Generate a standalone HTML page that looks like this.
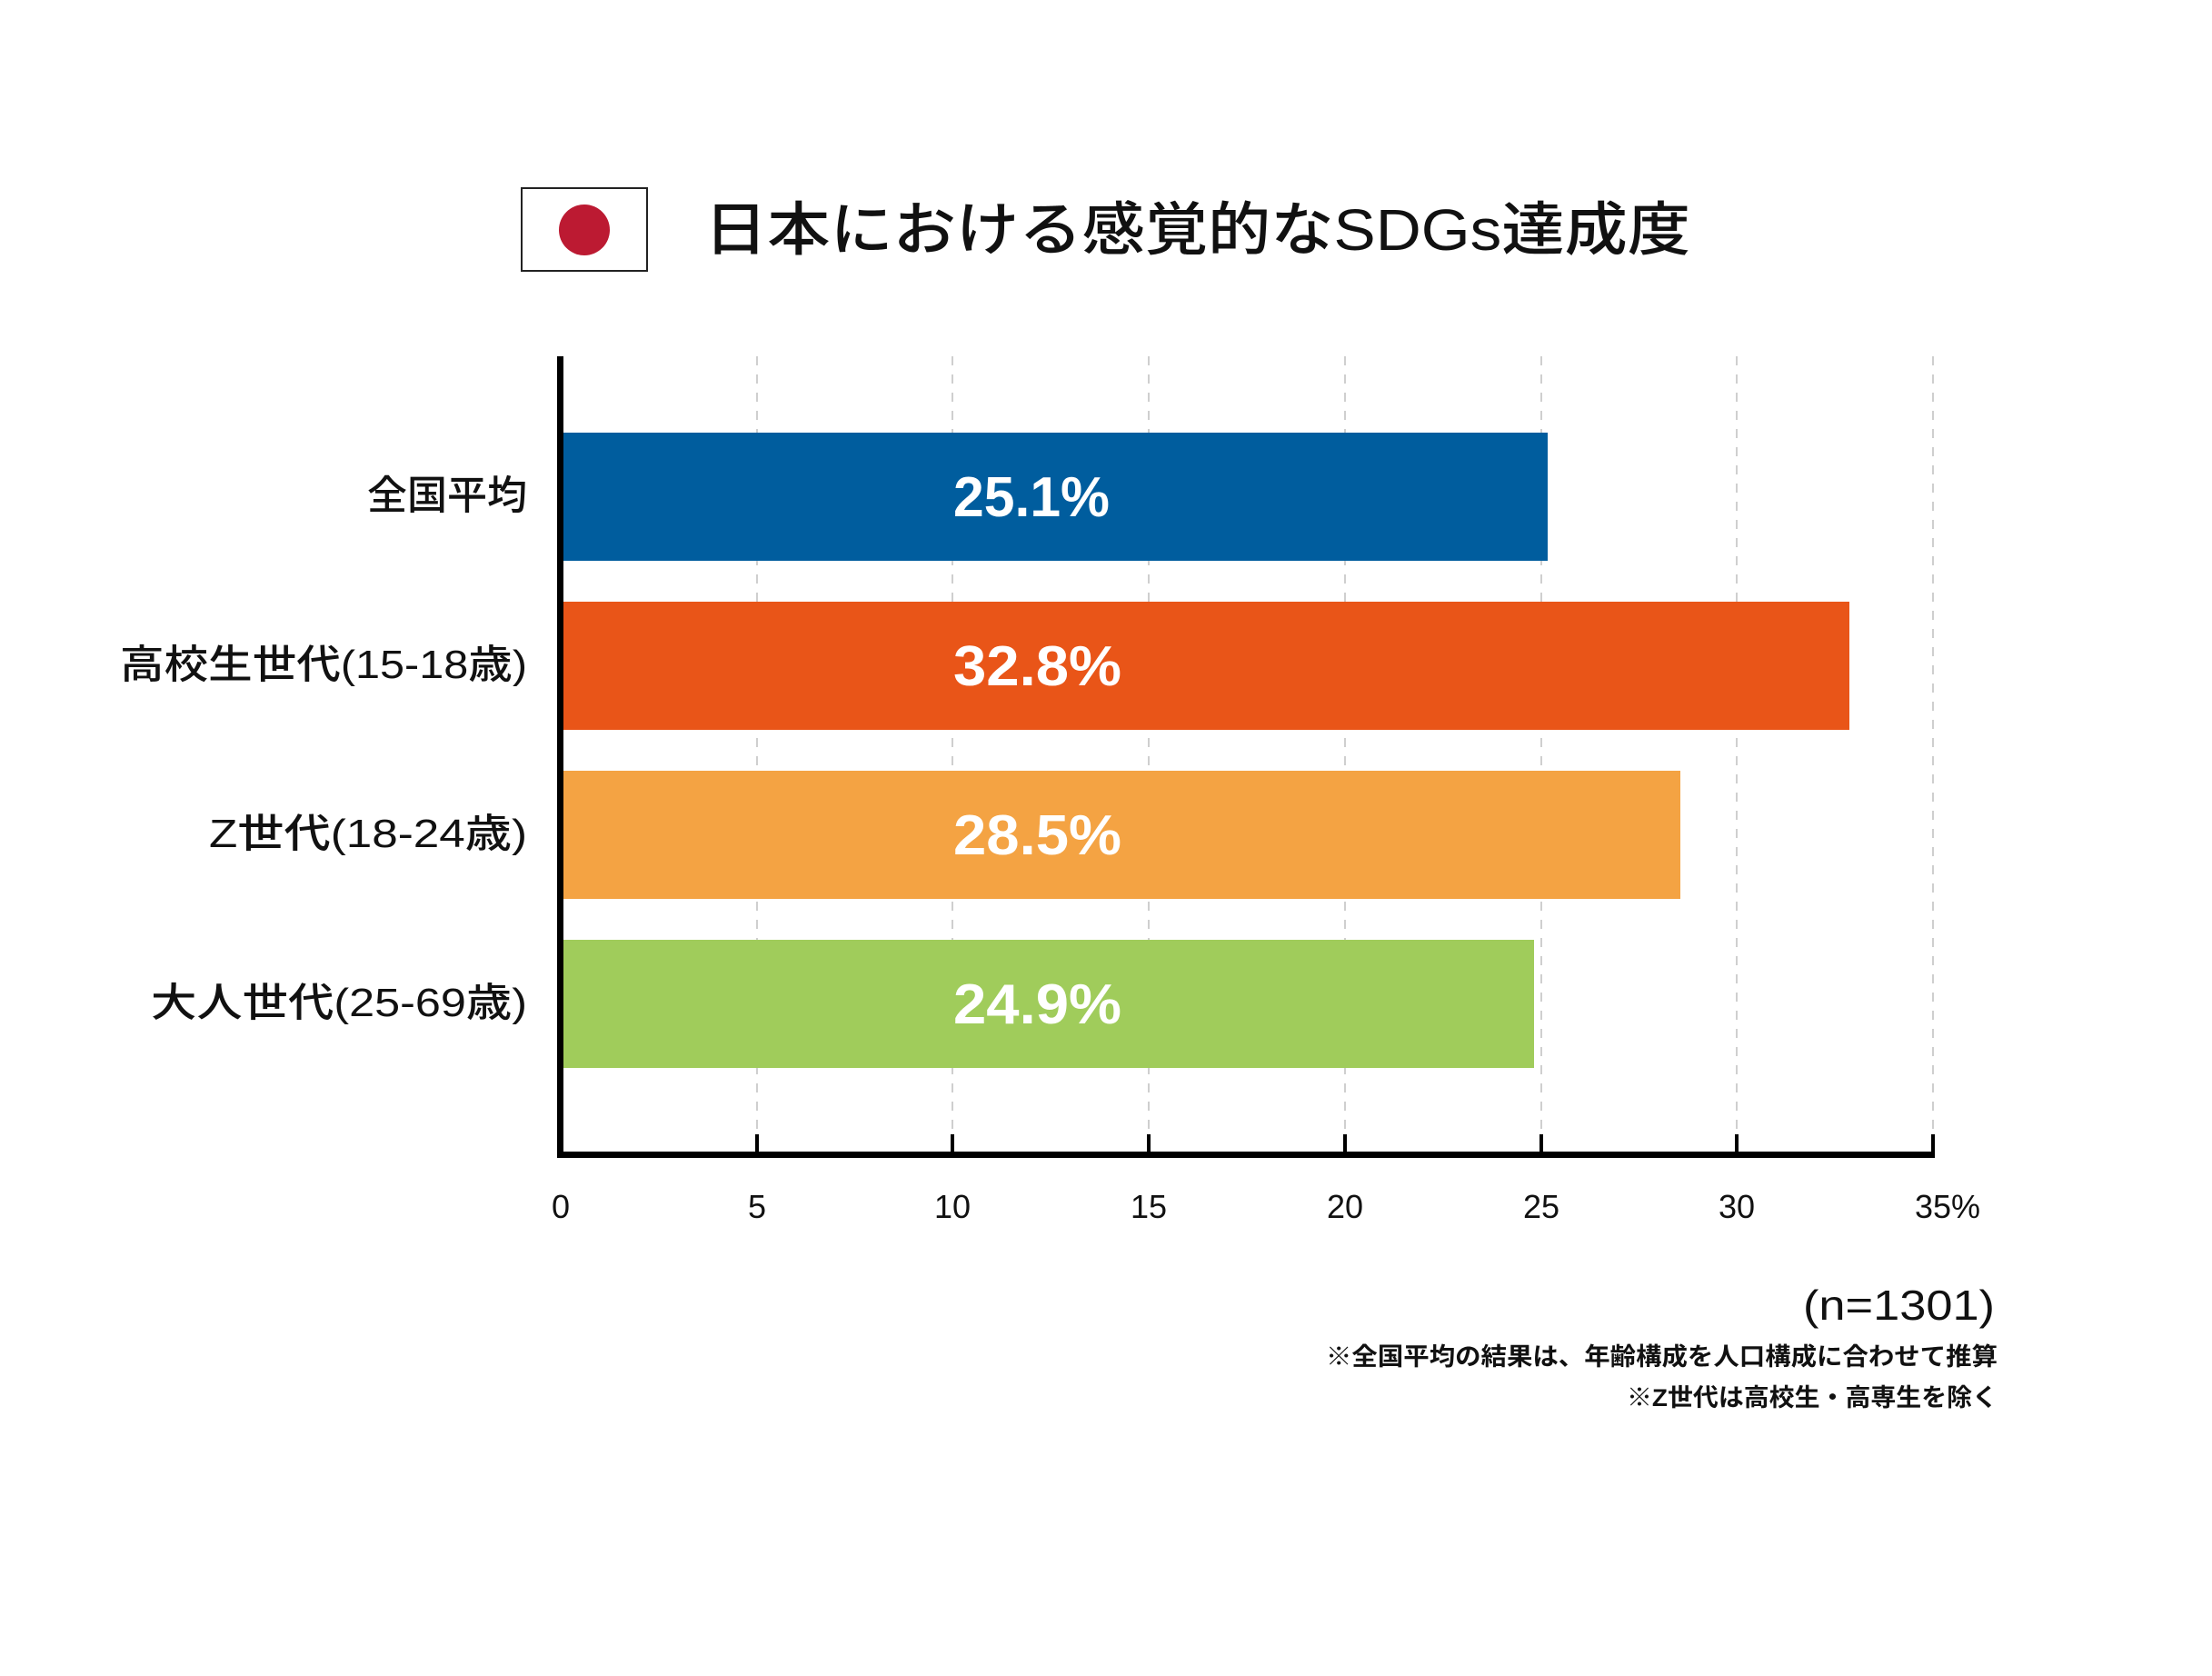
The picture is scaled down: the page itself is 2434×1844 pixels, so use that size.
<!DOCTYPE html>
<html><head><meta charset="utf-8"><style>
html,body{margin:0;padding:0;background:#fff;}
svg{display:block;}
text{font-family:"Liberation Sans","Noto Sans CJK JP",sans-serif;}
</style></head><body>
<svg width="2434" height="1844" viewBox="0 0 2434 1844" xmlns="http://www.w3.org/2000/svg">
<rect width="2434" height="1844" fill="#fff"/>
<rect x="574" y="207" width="138" height="91" fill="#fff" stroke="#222" stroke-width="2"/>
<ellipse cx="643" cy="253" rx="28" ry="28" fill="#bc1a32"/>
<text x="775" y="275" font-size="64" font-weight="500" fill="#111" textLength="1085" lengthAdjust="spacingAndGlyphs">日本における感覚的なSDGs達成度</text>
<g stroke="#cfcfcf" stroke-width="2" stroke-dasharray="10,10">
<line x1="833" y1="392" x2="833" y2="1250"/>
<line x1="1048" y1="392" x2="1048" y2="1250"/>
<line x1="1264" y1="392" x2="1264" y2="1250"/>
<line x1="1480" y1="392" x2="1480" y2="1250"/>
<line x1="1696" y1="392" x2="1696" y2="1250"/>
<line x1="1911" y1="392" x2="1911" y2="1250"/>
<line x1="2127" y1="392" x2="2127" y2="1250"/>
</g>
<rect x="620" y="476" width="1083" height="141" fill="#005d9e"/>
<rect x="620" y="662" width="1415" height="141" fill="#e95518"/>
<rect x="620" y="848" width="1229" height="141" fill="#f4a343"/>
<rect x="620" y="1034" width="1068" height="141" fill="#a0cc5b"/>
<g fill="#fff" font-size="62" font-weight="bold">
<text x="1049" y="568" textLength="172" lengthAdjust="spacingAndGlyphs">25.1%</text>
<text x="1049" y="754" textLength="185" lengthAdjust="spacingAndGlyphs">32.8%</text>
<text x="1049" y="940" textLength="185" lengthAdjust="spacingAndGlyphs">28.5%</text>
<text x="1049" y="1126" textLength="185" lengthAdjust="spacingAndGlyphs">24.9%</text>
</g>
<line x1="616.5" y1="392" x2="616.5" y2="1274" stroke="#000" stroke-width="7"/>
<line x1="613" y1="1270.5" x2="2129" y2="1270.5" stroke="#000" stroke-width="7"/>
<g stroke="#000" stroke-width="4">
<line x1="833" y1="1248" x2="833" y2="1270"/>
<line x1="1048" y1="1248" x2="1048" y2="1270"/>
<line x1="1264" y1="1248" x2="1264" y2="1270"/>
<line x1="1480" y1="1248" x2="1480" y2="1270"/>
<line x1="1696" y1="1248" x2="1696" y2="1270"/>
<line x1="1911" y1="1248" x2="1911" y2="1270"/>
<line x1="2127" y1="1248" x2="2127" y2="1270"/>
</g>
<g font-size="36" fill="#111" text-anchor="middle">
<text x="617" y="1340">0</text>
<text x="833" y="1340">5</text>
<text x="1048" y="1340">10</text>
<text x="1264" y="1340">15</text>
<text x="1480" y="1340">20</text>
<text x="1696" y="1340">25</text>
<text x="1911" y="1340">30</text>
<text x="2143" y="1340">35%</text>
</g>
<g font-size="44" font-weight="500" fill="#111">
<text x="404" y="560" textLength="176" lengthAdjust="spacingAndGlyphs">全国平均</text>
<text x="132" y="746" textLength="448" lengthAdjust="spacingAndGlyphs">高校生世代(15-18歳)</text>
<text x="230" y="932" textLength="350" lengthAdjust="spacingAndGlyphs">Z世代(18-24歳)</text>
<text x="166" y="1118" textLength="414" lengthAdjust="spacingAndGlyphs">大人世代(25-69歳)</text>
</g>
<g fill="#111">
<text x="1984" y="1452" font-size="46" textLength="211" lengthAdjust="spacingAndGlyphs">(n=1301)</text>
<text x="1459" y="1502" font-size="27" font-weight="bold" textLength="739" lengthAdjust="spacingAndGlyphs">※全国平均の結果は、年齢構成を人口構成に合わせて推算</text>
<text x="1790" y="1547" font-size="27" font-weight="bold" textLength="408" lengthAdjust="spacingAndGlyphs">※Z世代は高校生・高専生を除く</text>
</g>
</svg>
</body></html>
